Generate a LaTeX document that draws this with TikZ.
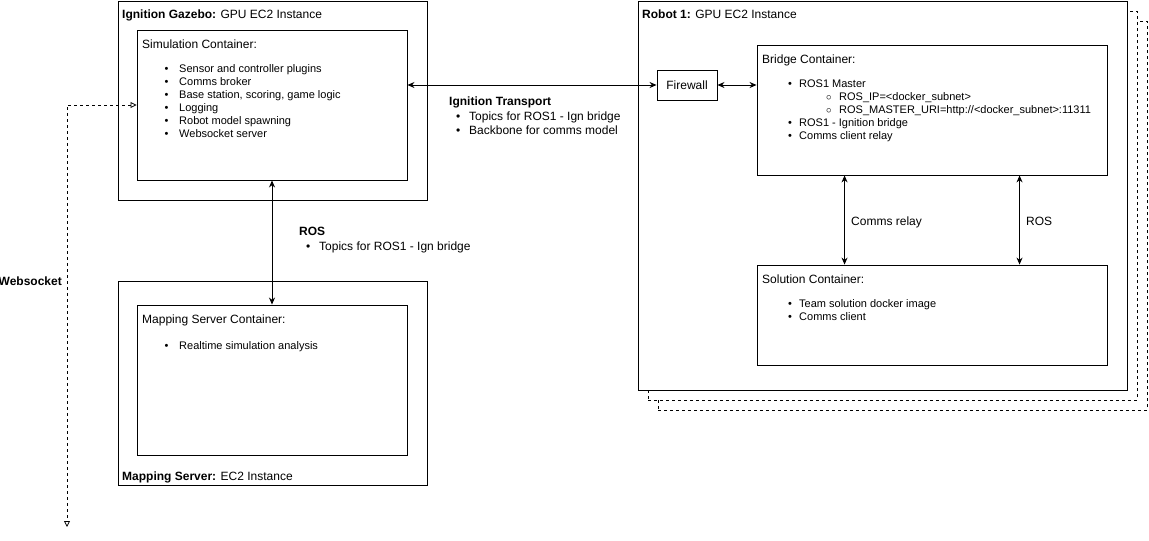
\documentclass[tikz,border=0pt]{standalone}
\usepackage{fontspec}
\setmainfont{Liberation Sans}
\usetikzlibrary{arrows.meta, positioning}

\newcommand{\bul}[1][12pt]{\makebox[#1][l]{\textbullet}}
\newcommand{\itemlist}[1]{\begin{tabular}[t]{@{}l@{}}#1\end{tabular}}

\begin{document}
\begin{tikzpicture}[x=1pt,y=-1pt,
  every node/.style={font=\fontsize{12}{14}\selectfont,inner sep=0pt},
  box/.style={draw,fill=white,line width=0.9pt},
  ghost/.style={draw,dashed,line width=0.9pt,fill=white},
  title/.style={anchor=base west},
  items/.style={anchor=base west,font=\fontsize{11}{13}\selectfont},
  link/.style={{Stealth[length=7pt,width=6pt]}-{Stealth[length=7pt,width=6pt]},line width=0.9pt},
  wslink/.style={{Triangle[open,length=6pt,width=6pt]}-{Triangle[open,length=6pt,width=6pt]},dashed,line width=0.8pt}
]
\useasboundingbox (0,0) rectangle (1149,541);
% gazebo instance
\node[box,minimum width=309pt,minimum height=199pt] (gazebo) at (272.5,100.5) {};
\node[title] (gazebot) at (122,18) {\textbf{Ignition Gazebo:} GPU EC2 Instance};
\node[box,minimum width=270pt,minimum height=150pt] (sim) at (272,105) {};
\node[title] (simt) at (142,48) {Simulation Container:};
\node[items] (siml) at (164.5,72.5) {\itemlist{\bul[14.5pt]Sensor and controller plugins\\
  \bul[14.5pt]Comms broker\\ \bul[14.5pt]Base station, scoring, game logic\\
  \bul[14.5pt]Logging\\ \bul[14.5pt]Robot model spawning\\ \bul[14.5pt]Websocket server}};
% mapping server
\node[box,minimum width=309pt,minimum height=204pt] (mapsrv) at (272.5,383) {};
\node[title] (mapsrvt) at (122,480) {\textbf{Mapping Server:} EC2 Instance};
\node[box,minimum width=270pt,minimum height=150pt] (mapc) at (272,380) {};
\node[title] (mapct) at (142,323) {Mapping Server Container:};
\node[items] (mapl) at (164.5,349.5) {\itemlist{\bul[14.5pt]Realtime simulation analysis}};
% robot instance (stacked copies)
\node[ghost,minimum width=489pt,minimum height=389pt] (robot3) at (902.5,215.5) {};
\node[ghost,minimum width=489pt,minimum height=389pt] (robot2) at (892.5,205.5) {};
\node[box,minimum width=489pt,minimum height=389pt] (robot) at (882.5,195.5) {};
\node[title] (robott) at (642,18) {\textbf{Robot 1:} GPU EC2 Instance};
\node[box,minimum width=60pt,minimum height=30pt] (fw) at (687,85) {Firewall};
\node[box,minimum width=350pt,minimum height=130pt] (bridge) at (932,110) {};
\node[title] (bridget) at (762,63) {Bridge Container:};
\node[items] (bridgel) at (788,87.5) {\itemlist{\bul[11pt]ROS1 Master\\
  \hspace*{38pt}\makebox[13pt][l]{$\circ$}ROS\_IP=<docker\_subnet>\\
  \hspace*{38pt}\makebox[13pt][l]{$\circ$}ROS\_MASTER\_URI=http://<docker\_subnet>:11311\\
  \bul[11pt]ROS1 - Ignition bridge\\ \bul[11pt]Comms client relay}};
\node[box,minimum width=350pt,minimum height=100pt] (sol) at (932,315) {};
\node[title] (solt) at (762,283) {Solution Container:};
\node[items] (soll) at (788,307.5) {\itemlist{\bul[11pt]Team solution docker image\\
  \bul[11pt]Comms client}};
% connectors
\draw[link] (fw.west -| sim.east) -- (fw.west);
\draw[link] (fw.east) -- (fw.east -| bridge.west);
\draw[link] (sim.south) -- (mapc.north);
\draw[link] ([xshift=88pt]bridge.south west) -- ([xshift=88pt]sol.north west);
\draw[link] ([xshift=263pt]bridge.south west) -- ([xshift=263pt]sol.north west);
\coordinate (wsend) at (67,527);
\draw[wslink] (sim.west) -| (wsend);
% labels
\node[title] (igt) at (449,105) {\textbf{Ignition Transport}};
\node[title] (igl) at (456,120) {\itemlist{\bul[13pt]Topics for ROS1 - Ign bridge\\
  \bul[13pt]Backbone for comms model}};
\node[title] (rost) at (299,235) {\textbf{ROS}};
\node[title] (rosl) at (306,250) {\itemlist{\bul[13pt]Topics for ROS1 - Ign bridge}};
\node[title] (relayt) at (851,225) {Comms relay};
\node[title] (ros2t) at (1026,225) {ROS};
\node[anchor=base east] (wst) at (62,285) {\textbf{Websocket}};
\end{tikzpicture}
\end{document}
